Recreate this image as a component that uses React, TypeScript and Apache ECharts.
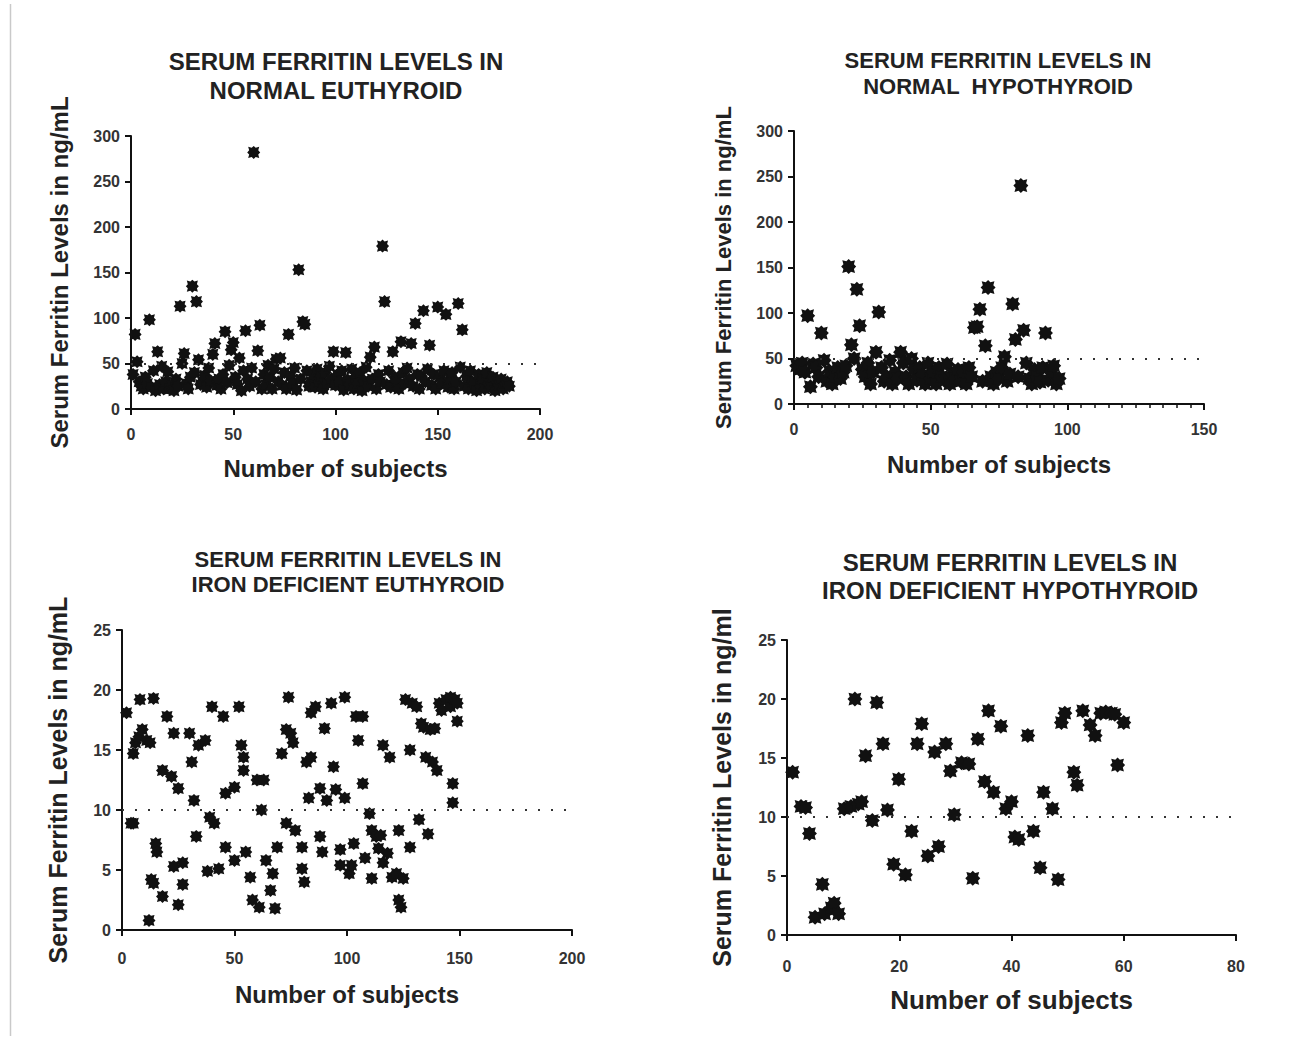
import React, { useEffect, useRef } from "react";
import * as echarts from "echarts";

// ---------- DATA ----------
// Panel 1: Normal euthyroid (subject index = position + 1)
const normalEuthyroid: number[] = [
  38, 82, 52, 30, 25, 22, 35, 28, 98, 24,
  42, 20, 63, 27, 47, 22, 30, 41, 22, 26,
  20, 33, 25, 113, 50, 61, 28, 22, 35, 135,
  40, 118, 54, 27, 30, 37, 24, 45, 31, 60,
  72, 26, 33, 22, 38, 85, 29, 48, 65, 73,
  35, 27, 56, 20, 42, 86, 33, 25, 45, 282,
  30, 64, 92, 22, 38, 27, 48, 35, 22, 44,
  55, 30, 56, 26, 40, 22, 82, 36, 28, 45,
  21, 153, 33, 96, 93, 42, 25, 30, 38, 24,
  44, 30, 36, 22, 40, 28, 47, 33, 63, 26,
  38, 30, 42, 21, 62, 32, 27, 44, 22, 35,
  28, 40, 20, 31, 46, 25, 57, 33, 68, 22,
  38, 30, 179, 118, 27, 42, 24, 63, 35, 30,
  22, 74, 40, 28, 45, 33, 72, 25, 94, 38,
  22, 36, 108, 30, 44, 70, 26, 38, 22, 112,
  35, 28, 42, 104, 24, 33, 40, 22, 30, 116,
  46, 87, 25, 36, 22, 42, 30, 28, 20, 38,
  25, 33, 22, 40, 28, 24, 35, 20, 30, 26,
  33, 22, 28, 30, 25,
];

// Panel 2: Normal hypothyroid (subject index = position + 1)
const normalHypothyroid: number[] = [
  42, 38, 45, 35, 97, 19, 44, 40, 30, 78,
  48, 25, 36, 22, 30, 40, 28, 35, 42, 151,
  65, 50, 126, 86, 38, 30, 45, 22, 35, 57,
  101, 40, 25, 30, 48, 22, 35, 28, 57, 45,
  30, 22, 50, 38, 26, 40, 32, 22, 45, 28,
  35, 22, 40, 30, 26, 44, 22, 33, 28, 38,
  25, 35, 22, 40, 30, 84, 85, 104, 25, 64,
  128, 30, 22, 35, 28, 40, 52, 25, 33, 110,
  71, 30, 240, 81, 45, 28, 22, 38, 30, 24,
  40, 78, 26, 35, 42, 22, 28,
];

// Panel 3: Iron deficient euthyroid
const ironDefEuthyroidX: number[] = [
  2, 4, 5, 5, 6, 7.5, 8, 9, 11, 12, 12.5, 13, 14, 14, 15, 15.5, 18, 18,
  20, 22, 23, 23, 25, 25, 27, 27, 30, 31, 32, 33, 34, 37, 38, 40, 39, 41,
  43, 45, 46, 46, 50, 50, 52, 53, 54, 54, 55, 57, 58, 60, 61, 62, 63, 64,
  66, 67, 68, 69, 71, 73, 74, 75, 76, 73, 77, 80, 80, 81, 82, 84, 83, 84,
  86, 88, 88, 89, 90, 91, 93, 94, 95, 97, 97, 99, 99, 101, 102, 103, 104,
  105, 107, 107, 108, 110, 111, 111, 113, 114, 115, 116, 116, 118, 119,
  120, 122, 123, 124, 125, 123, 128, 128, 126, 129, 131, 132, 133, 134,
  136, 135, 138, 140, 137, 139, 141, 142, 144, 146, 146, 148, 147, 147,
  149, 149,
];
const ironDefEuthyroidY: number[] = [
  18.1, 8.9, 8.9, 14.7, 15.6, 16.1, 19.2, 16.7, 15.8, 0.8, 15.6, 4.2, 3.9,
  19.3, 7.2, 6.5, 13.3, 2.8, 17.8, 12.8, 16.4, 5.3, 11.8, 2.1, 5.6, 3.8,
  16.4, 14.0, 10.8, 7.8, 15.4, 15.8, 4.9, 18.6, 9.4, 8.9, 5.1, 17.8, 6.9,
  11.4, 11.9, 5.8, 18.6, 15.4, 13.3, 14.4, 6.5, 4.4, 2.5, 12.5, 1.9, 10.0,
  12.5, 5.8, 3.3, 4.7, 1.8, 6.9, 14.7, 16.7, 19.4, 16.4, 15.6, 8.9, 8.3,
  6.9, 5.1, 4.0, 14.0, 14.4, 11.0, 18.1, 18.6, 11.8, 7.8, 6.5, 16.8, 10.8,
  18.9, 13.6, 11.7, 6.7, 5.4, 19.4, 11.0, 4.7, 5.4, 7.2, 17.8, 15.8, 12.2,
  17.8, 6.0, 9.7, 8.3, 4.3, 7.8, 6.8, 7.9, 15.4, 5.6, 6.4, 14.4, 4.4, 4.7,
  2.5, 1.9, 4.3, 8.3, 15.0, 6.9, 19.2, 18.9, 18.6, 9.2, 17.2, 16.9, 8.0,
  14.4, 14.0, 13.3, 16.7, 16.8, 18.9, 18.3, 19.2, 18.6, 19.4, 19.2, 12.2,
  10.6, 17.4, 18.9,
];

// Panel 4: Iron deficient hypothyroid
const ironDefHypoX: number[] = [
  1, 2.5, 3.3, 4, 5, 6.3, 6.7, 7.9, 8.4, 9.2, 10.2, 11.4, 12.1, 12.7, 13.3,
  14, 15.2, 16, 17.1, 17.9, 19, 19.9, 21.1, 22.2, 23.2, 24, 25.1, 26.3, 27,
  28.3, 29.1, 29.8, 31.1, 32.4, 33.1, 34, 35.2, 35.9, 36.8, 38.1, 39, 40,
  40.6, 41.3, 42.9, 43.9, 45.1, 45.7, 47.3, 48.3, 48.9, 49.5, 51.1, 51.7,
  52.7, 54, 54.9, 55.9, 56.8, 57.8, 58.4, 58.9, 60,
];
const ironDefHypoY: number[] = [
  13.8, 10.9, 10.8, 8.6, 1.5, 4.3, 1.8, 2.3, 2.7, 1.8, 10.7, 10.9, 20.0,
  11.1, 11.3, 15.2, 9.7, 19.7, 16.2, 10.6, 6.0, 13.2, 5.1, 8.8, 16.2, 17.9,
  6.7, 15.5, 7.5, 16.2, 13.9, 10.2, 14.6, 14.5, 4.8, 16.6, 13.0, 19.0,
  12.1, 17.7, 10.7, 11.3, 8.3, 8.1, 16.9, 8.8, 5.7, 12.1, 10.7, 4.7, 18.0,
  18.8, 13.8, 12.7, 19.0, 17.8, 16.9, 18.8, 18.9, 18.8, 18.7, 14.4, 18.0,
];

const titles: string[] = [
  "SERUM FERRITIN LEVELS IN\nNORMAL EUTHYROID",
  "SERUM FERRITIN LEVELS IN\nNORMAL  HYPOTHYROID",
  "SERUM FERRITIN LEVELS IN\nIRON DEFICIENT EUTHYROID",
  "SERUM FERRITIN LEVELS IN\nIRON DEFICIENT HYPOTHYROID",
];
const yNames: string[] = [
  "Serum Ferritin Levels in ng/mL",
  "Serum Ferritin Levels in ng/mL",
  "Serum Ferritin Levels in ng/mL",
  "Serum Ferritin Levels in ng/ml",
];
const xName = "Number of subjects";
const xMax: number[] = [200, 150, 200, 80];
const xStep: number[] = [50, 50, 50, 20];
const yMax: number[] = [300, 300, 25, 25];
const yStep: number[] = [50, 50, 5, 5];
const cutoff: number[] = [50, 50, 10, 10];

// ---------- STYLE / LAYOUT ----------
const FONT = "Liberation Sans, Arial, sans-serif";
const STAR =
  "path://M20,10L17,13.1L18.5,18.5L13.1,17L10,20L6.9,17L1.5,18.5L3,13.1L0,10L3,6.9L1.5,1.5L6.9,3L10,0L13.1,3L18.5,1.5L17,6.9Z";

const grids = [
  { left: 131, top: 136, width: 409, height: 273 },
  { left: 794, top: 131, width: 410, height: 273 },
  { left: 122, top: 630, width: 450, height: 300 },
  { left: 787, top: 640, width: 449, height: 295 },
];
const titlePos = [
  { x: 336, y: 76, size: 24, lh: 29 },
  { x: 998, y: 73, size: 22, lh: 26 },
  { x: 348, y: 572, size: 22, lh: 25 },
  { x: 1010, y: 576, size: 24, lh: 28 },
];
const yNameStyle = [
  { size: 24, gap: 60 },
  { size: 22, gap: 60 },
  { size: 25, gap: 52 },
  { size: 25, gap: 53 },
];
const xNameStyle = [
  { size: 24, gap: 47 },
  { size: 24, gap: 48 },
  { size: 24, gap: 52 },
  { size: 26, gap: 52 },
];
const xLabelMargin = [17, 17, 20, 23];
const symSize = [13, 15, 13, 15];

export default function App() {
  const ref = useRef<HTMLDivElement>(null);

  useEffect(() => {
    if (!ref.current) return;
    const chart = echarts.init(ref.current, undefined, { renderer: "svg" });

    const seriesData: number[][][] = [
      normalEuthyroid.map((v, i) => [i + 1, v]),
      normalHypothyroid.map((v, i) => [i + 1, v]),
      ironDefEuthyroidX.map((x, i) => [x, ironDefEuthyroidY[i]]),
      ironDefHypoX.map((x, i) => [x, ironDefHypoY[i]]),
    ];

    const axisLine = { show: true, onZero: false, lineStyle: { color: "#111", width: 2 } };
    const axisTick = { show: true, length: 6, lineStyle: { color: "#111", width: 2 } };

    const option: any = {
      animation: false,
      backgroundColor: "#fff",
      grid: grids.map((g) => ({ ...g, containLabel: false })),
      xAxis: grids.map((_, i) => ({
        type: "value",
        gridIndex: i,
        min: 0,
        max: xMax[i],
        interval: xStep[i],
        name: xName,
        nameLocation: "middle",
        nameGap: xNameStyle[i].gap,
        nameTextStyle: {
          fontFamily: FONT,
          fontWeight: "bold",
          fontSize: xNameStyle[i].size,
          color: "#222",
        },
        axisLine,
        axisTick,
        minorTick:
          i === 1
            ? { show: true, splitNumber: 10, length: 4, lineStyle: { color: "#111", width: 1.5 } }
            : { show: false },
        splitLine: { show: false },
        axisLabel: {
          fontFamily: FONT,
          fontWeight: "bold",
          fontSize: 16,
          color: "#333",
          margin: xLabelMargin[i],
        },
      })),
      yAxis: grids.map((_, i) => ({
        type: "value",
        gridIndex: i,
        min: 0,
        max: yMax[i],
        interval: yStep[i],
        name: yNames[i],
        nameLocation: "middle",
        nameRotate: 90,
        nameGap: yNameStyle[i].gap,
        nameTextStyle: {
          fontFamily: FONT,
          fontWeight: "bold",
          fontSize: yNameStyle[i].size,
          color: "#222",
        },
        axisLine,
        axisTick,
        splitLine: { show: false },
        axisLabel: {
          fontFamily: FONT,
          fontWeight: "bold",
          fontSize: 16,
          color: "#333",
          margin: 11,
        },
      })),
      series: seriesData.map((d, i) => ({
        type: "scatter",
        xAxisIndex: i,
        yAxisIndex: i,
        data: d,
        symbol: STAR,
        symbolSize: symSize[i],
        itemStyle: { color: "#111", opacity: 1 },
        markLine: {
          silent: true,
          symbol: "none",
          label: { show: false },
          lineStyle: { color: "#333", width: 2, type: [2, 11] },
          data: [{ yAxis: cutoff[i] }],
        },
      })),
      graphic: [
        {
          type: "line",
          shape: { x1: 10.5, y1: 4, x2: 10.5, y2: 1036 },
          style: { stroke: "#c9c9c9", lineWidth: 1.5 },
        },
        ...titles.map((t, i) => ({
          type: "text",
          x: titlePos[i].x,
          y: titlePos[i].y,
          style: {
            text: t,
            textAlign: "center",
            textVerticalAlign: "middle",
            fontFamily: FONT,
            fontWeight: "bold",
            fontSize: titlePos[i].size,
            lineHeight: titlePos[i].lh,
            fill: "#222",
          },
        })),
      ],
    };

    chart.setOption(option);
    return () => chart.dispose();
  }, []);

  return (
    <div
      ref={ref}
      style={{
        position: "fixed",
        left: 0,
        top: 0,
        width: 1312,
        height: 1051,
        background: "#fff",
      }}
    />
  );
}
